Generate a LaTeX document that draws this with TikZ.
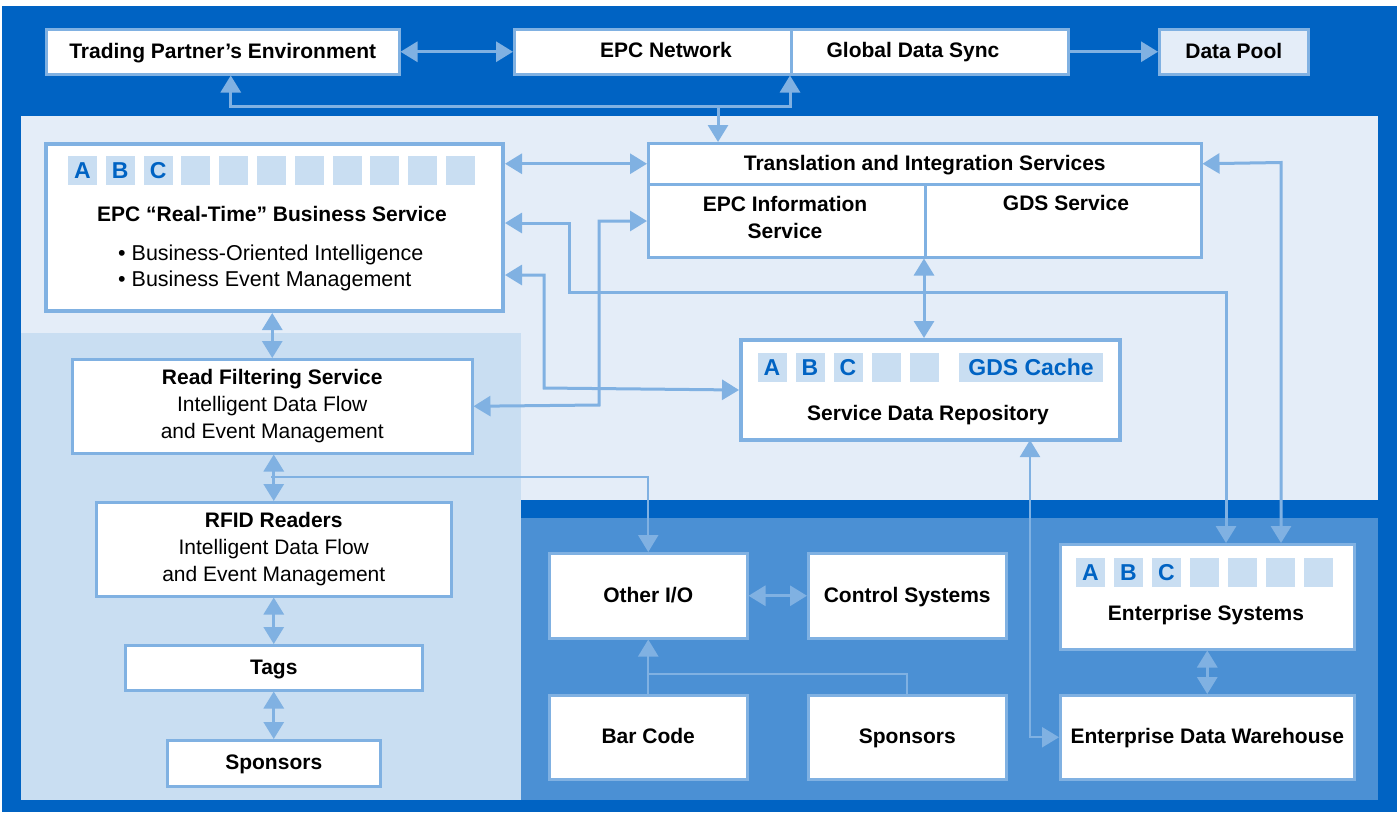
\documentclass[tikz,border=0pt]{standalone}
\usepackage{fontspec}
\setmainfont{Liberation Sans}
\usetikzlibrary{arrows.meta}
\definecolor{dblue}{HTML}{0063C3}
\definecolor{pale}{HTML}{E4EDF8}
\definecolor{lightb}{HTML}{C9DEF2}
\definecolor{mblue}{HTML}{4B90D4}
\definecolor{edge}{HTML}{80B1E2}
\definecolor{letter}{HTML}{0063C3}
\begin{document}
\begin{tikzpicture}[x=1pt,y=-1pt,
  box/.style={draw=edge, line width=2.5pt, fill=white, inner sep=0pt, anchor=north west, align=center,
              font=\fontsize{21}{27}\selectfont},
  sbox/.style={box, text height=18pt, text depth=5pt, font=\fontsize{21}{27}\selectfont\bfseries},
  bigbox/.style={box, line width=4pt},
  ttl/.style={font=\fontsize{21}{27}\selectfont\bfseries, inner sep=0pt, text height=18pt, text depth=5pt},
  ttltwo/.style={font=\fontsize{21}{27}\selectfont\bfseries, inner sep=0pt, align=center},
  reg/.style={font=\fontsize{21.5}{27}\selectfont, inner sep=0pt, text height=18pt, text depth=5pt},
  sq/.style={fill=lightb, minimum width=29pt, minimum height=29pt, inner sep=0pt, text=letter,
             font=\fontsize{23}{23}\selectfont\bfseries},
  lt/.style={text=letter, font=\fontsize{23}{23}\selectfont\bfseries},
  arr/.style={draw=edge, line width=3pt, -{Triangle[length=17pt,width=20pt]}},
  biarr/.style={draw=edge, line width=3pt, {Triangle[length=17pt,width=20pt]}-{Triangle[length=17pt,width=20pt]}},
  ln/.style={draw=edge, line width=2.5pt}
]
\useasboundingbox (0,0) rectangle (1397,812);
% backgrounds
\fill[white] (0,0) rectangle (1397,812);
\fill[dblue] (2,6) rectangle (1397,812);
\fill[pale] (21,116) rectangle (1378,500);
\fill[lightb] (21,333) rectangle (521,800);
\fill[mblue] (521,518) rectangle (1378,800);

% top row
\node[box, minimum width=353pt, minimum height=45pt] (tpe) at (45,28) {};
\node[ttl] (tpet) at (tpe.center) {Trading Partner’s Environment};
\node[box, minimum width=277pt, minimum height=45pt] (epc) at (513,28) {};
\node[box, minimum width=277pt, minimum height=45pt] (gds) at (790,28) {};
\node[ttl] (epct) at (666,50.5) {EPC Network};
\node[ttl] (gdst) at (913,50.5) {Global Data Sync};
\node[box, fill=pale, minimum width=149pt, minimum height=45pt] (dp) at (1158,28) {};
\node[ttl] (dpt) at (dp.center) {Data Pool};

% EPC real-time
\node[bigbox, minimum width=457pt, minimum height=167pt] (rt) at (44,142) {};
\foreach \i in {0,...,10} {\node[sq] (rsq\i) at (82.5+37.8*\i,170.5) {};}
\node[lt] (rA) at (rsq0) {A};
\node[lt] (rB) at (rsq1) {B};
\node[lt] (rC) at (rsq2) {C};
\node[ttl] (rtt) at (272,215) {EPC “Real-Time” Business Service};
\node[reg, anchor=west] (rb1) at (118,254) {\textbullet\ Business-Oriented Intelligence};
\node[reg, anchor=west] (rb2) at (118,280) {\textbullet\ Business Event Management};

% translation
\node[box, minimum width=553pt, minimum height=41pt] (tis) at (647,142) {};
\node[ttl] (tist) at (tis.center) {Translation and Integration Services};
\node[box, minimum width=277pt, minimum height=73pt] (epcis) at (647,183) {};
\node[box, minimum width=276pt, minimum height=73pt] (gdss) at (924,183) {};
\node[ttltwo] (epcist) at (785,217) {EPC Information\\Service};
\node[ttl] (gdsst) at (1066,203.5) {GDS Service};

% service data repository
\node[bigbox, minimum width=379pt, minimum height=100pt] (sdr) at (739,338) {};
\foreach \x [count=\i] in {772,810,848,886,924} {\node[sq] (ssq\i) at (\x,367.5) {};}
\node[lt] (sA) at (ssq1) {A};
\node[lt] (sB) at (ssq2) {B};
\node[lt] (sC) at (ssq3) {C};
\node[sq, minimum width=144pt] (gcache) at (1031,367.5) {GDS Cache};
\node[ttl] (sdrt) at (928,414) {Service Data Repository};

% left column
\node[box, minimum width=400pt, minimum height=94pt] (rfs) at (71,358)
  {\textbf{Read Filtering Service}\\Intelligent Data Flow\\and Event Management};
\node[box, minimum width=355pt, minimum height=94pt] (rfid) at (95,501)
  {\textbf{RFID Readers}\\Intelligent Data Flow\\and Event Management};
\node[sbox, minimum width=297pt, minimum height=45pt] (tags) at (124,644) {Tags};
\node[sbox, minimum width=213pt, minimum height=46pt] (spl) at (166,739) {Sponsors};

% bottom right
\node[sbox, minimum width=198pt, minimum height=85pt] (oio) at (548,552) {Other I/O};
\node[sbox, minimum width=198pt, minimum height=85pt] (ctl) at (807,552) {Control Systems};
\node[sbox, minimum width=198pt, minimum height=84pt] (bar) at (548,694) {Bar Code};
\node[sbox, minimum width=198pt, minimum height=84pt] (spr) at (807,694) {Sponsors};
\node[box, minimum width=294pt, minimum height=105pt] (es) at (1059,543) {};
\foreach \i in {0,...,6} {\node[sq] (esq\i) at (1090.5+38*\i,572.5) {};}
\node[lt] (eA) at (esq0) {A};
\node[lt] (eB) at (esq1) {B};
\node[lt] (eC) at (esq2) {C};
\node[ttl] (est) at (1206,614) {Enterprise Systems};
\node[sbox, minimum width=294pt, minimum height=84pt] (edw) at (1059,694) {Enterprise Data Warehouse};

% connectors: top
\draw[biarr] (tpe.east) -- (epc.west);
\draw[arr] (gds.east) -- (dp.west);
\coordinate (j1) at (718,106);
\draw[arr] (j1) -| ([xshift=8pt]tpe.south);
\draw[arr] (j1) -| (gds.south west);
\draw[arr] (j1) -- (j1 |- tis.north);

% connectors: middle
\draw[biarr] (rt.east |- tis.west) -- (tis.west);
\draw[biarr] (rfs.east) -- (599,405) -- (599,221) -- (epcis.west |- 0,221);
\draw[biarr] (rt.east |- 0,223) -- (569,223) -- (569,292) -- (1226,292) -- (1226,543);
\draw[biarr] (rt.east |- 0,275) -- (544,275) -- (544,388) -- (sdr.west);
\draw[biarr] (tis.east) -- (1281,162.5) -- (1281,543);
\draw[biarr] (gdss.south west) -- (gdss.south west |- sdr.north);
\draw[biarr, line width=2.2pt] (1030,440) |- (edw.west);

% connectors: left column
\draw[biarr] (rfs.north) -- (rfs.north |- rt.south);
\draw[biarr] (rfid.north) -- (rfid.north |- rfs.south);
\draw[arr, line width=2.2pt] (271,477) -| (oio.north);
\draw[biarr] (tags.north) -- (tags.north |- rfid.south);
\draw[biarr] (spl.north) -- (spl.north |- tags.south);

% connectors: bottom right
\draw[biarr] (oio.east) -- (ctl.west);
\draw[arr, line width=2.2pt] (bar.north) -- (oio.south);
\draw[ln, line width=2.2pt] (spr.north) |- (647,674);
\draw[biarr] (es.south) -- (edw.north);
\end{tikzpicture}
\end{document}
